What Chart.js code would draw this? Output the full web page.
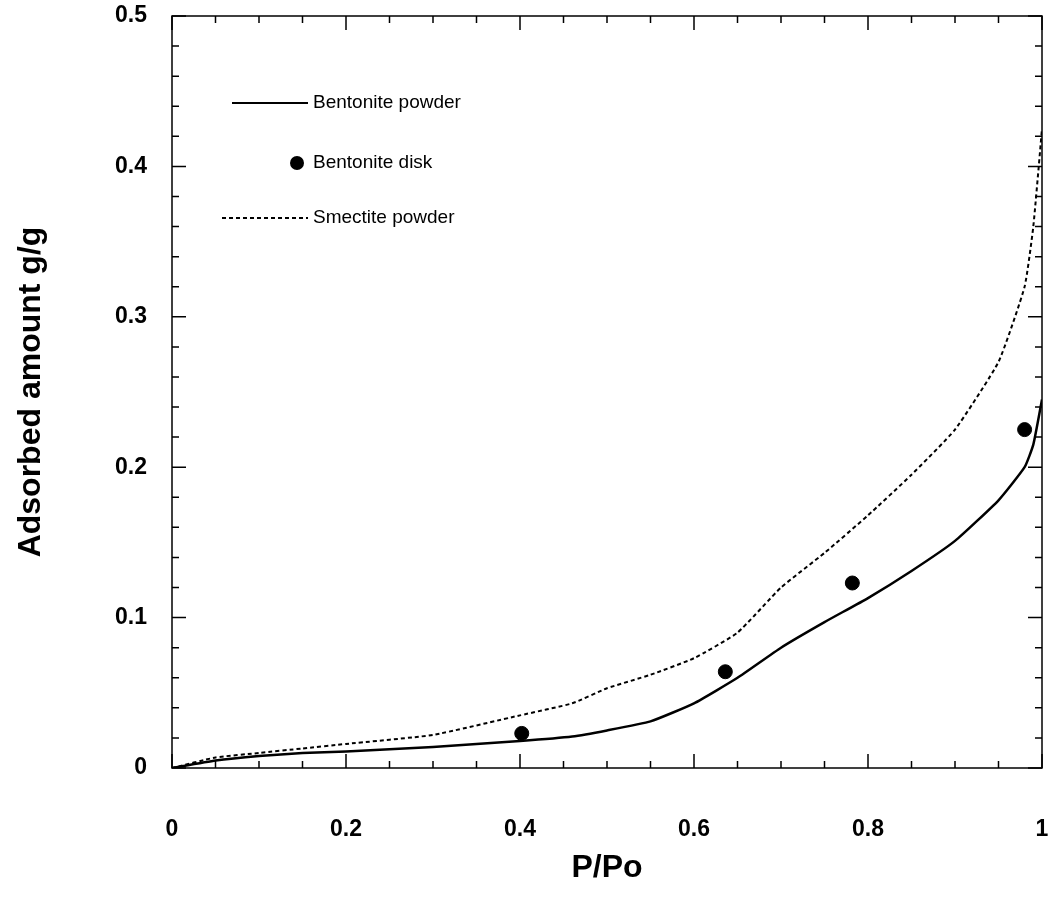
<!DOCTYPE html>
<html>
<head>
<meta charset="utf-8">
<script src="https://cdn.jsdelivr.net/npm/chart.js@4"></script>
<style>
  body { margin: 0; background: #fff; }
  #wrap { width: 1050px; height: 897px; }
</style>
</head>
<body>
<div id="wrap"><canvas id="c"></canvas></div>
<script>
// Bentonite powder isotherm (x = P/Po, y = g/g)
const powderX = [0, 0.05, 0.1, 0.15, 0.2, 0.3, 0.4, 0.46, 0.5, 0.55, 0.6, 0.65, 0.7, 0.75, 0.8, 0.85, 0.9, 0.95, 0.98, 0.99, 1.0];
const powderY = [0, 0.005, 0.008, 0.010, 0.011, 0.014, 0.018, 0.021, 0.025, 0.031, 0.043, 0.060, 0.080, 0.097, 0.113, 0.131, 0.151, 0.178, 0.200, 0.215, 0.245];
// Smectite powder
const smectX = [0, 0.05, 0.1, 0.15, 0.2, 0.3, 0.4, 0.46, 0.5, 0.55, 0.6, 0.65, 0.7, 0.75, 0.8, 0.85, 0.9, 0.95, 0.98, 0.99, 1.0];
const smectY = [0, 0.007, 0.010, 0.013, 0.016, 0.022, 0.035, 0.043, 0.053, 0.062, 0.073, 0.090, 0.120, 0.143, 0.168, 0.195, 0.225, 0.270, 0.320, 0.360, 0.425];
// Bentonite disk
const diskX = [0.402, 0.636, 0.782, 0.98];
const diskY = [0.023, 0.064, 0.123, 0.225];

const xTicks = [0, 0.2, 0.4, 0.6, 0.8, 1];
const yTicks = [0, 0.1, 0.2, 0.3, 0.4, 0.5];

const FONT = 'Arial, "Liberation Sans", sans-serif';

function pts(xs, ys) { return xs.map((x, i) => ({ x: x, y: ys[i] })); }

// Draws frame, inward ticks on all four sides, tick labels and the legend
const framePlugin = {
    id: 'frame',
    afterDraw(chart) {
        const ctx = chart.ctx, a = chart.chartArea;
        const xs = chart.scales.x, ys = chart.scales.y;
        ctx.save();
        ctx.strokeStyle = '#000';
        ctx.lineWidth = 1.5;
        ctx.strokeRect(a.left, a.top, a.right - a.left, a.bottom - a.top);
        for (let i = 0; i <= 20; i++) {
            const px = xs.getPixelForValue(i * 0.05);
            const len = (i % 4 === 0) ? 14 : 7;
            ctx.beginPath();
            ctx.moveTo(px, a.bottom); ctx.lineTo(px, a.bottom - len);
            ctx.moveTo(px, a.top); ctx.lineTo(px, a.top + len);
            ctx.stroke();
        }
        for (let i = 0; i <= 25; i++) {
            const py = ys.getPixelForValue(i * 0.02);
            const len = (i % 5 === 0) ? 14 : 7;
            ctx.beginPath();
            ctx.moveTo(a.left, py); ctx.lineTo(a.left + len, py);
            ctx.moveTo(a.right, py); ctx.lineTo(a.right - len, py);
            ctx.stroke();
        }
        // tick labels
        ctx.fillStyle = '#000';
        ctx.font = 'bold 23px ' + FONT;
        ctx.textAlign = 'center';
        ctx.textBaseline = 'middle';
        xTicks.forEach(v => ctx.fillText(String(v), xs.getPixelForValue(v), a.bottom + 62));
        ctx.textAlign = 'right';
        yTicks.forEach(v => ctx.fillText(String(v), a.left - 25, ys.getPixelForValue(v)));
        // legend
        ctx.textAlign = 'left';
        ctx.font = '19px ' + FONT;
        ctx.lineWidth = 2;
        ctx.beginPath(); ctx.moveTo(232, 103); ctx.lineTo(308, 103); ctx.stroke();
        ctx.fillText('Bentonite powder', 313, 103);
        ctx.beginPath(); ctx.arc(297, 163, 7, 0, Math.PI * 2); ctx.fill();
        ctx.fillText('Bentonite disk', 313, 163);
        ctx.setLineDash([4, 3]);
        ctx.beginPath(); ctx.moveTo(222, 218); ctx.lineTo(308, 218); ctx.stroke();
        ctx.setLineDash([]);
        ctx.fillText('Smectite powder', 313, 218);
        ctx.restore();
    }
};

new Chart(document.getElementById('c'), {
    type: 'scatter',
    data: {
        datasets: [
            { label: 'Bentonite powder', data: pts(powderX, powderY), showLine: true, borderColor: '#000', borderWidth: 2.5, pointRadius: 0, tension: 0.15 },
            { label: 'Bentonite disk', data: pts(diskX, diskY), backgroundColor: '#000', borderColor: '#000', pointRadius: 7 },
            { label: 'Smectite powder', data: pts(smectX, smectY), showLine: true, borderColor: '#000', borderWidth: 2, borderDash: [4, 3], pointRadius: 0, tension: 0.15 }
        ]
    },
    options: {
        responsive: true,
        maintainAspectRatio: false,
        animation: false,
        layout: { padding: { top: 16, right: 8, left: 0, bottom: 0 } },
        plugins: { legend: { display: false }, tooltip: { enabled: false } },
        scales: {
            x: {
                type: 'linear', min: 0, max: 1,
                afterFit: s => { s.height = 129; },
                grid: { display: false },
                border: { display: false },
                ticks: { display: false },
                title: { display: true, text: 'P/Po', color: '#000', font: { size: 32, weight: 'bold', family: FONT }, padding: { bottom: 10 } }
            },
            y: {
                type: 'linear', min: 0, max: 0.5,
                afterFit: s => { s.width = 172; },
                grid: { display: false },
                border: { display: false },
                ticks: { display: false },
                title: { display: true, text: 'Adsorbed amount g/g', color: '#000', font: { size: 32, weight: 'bold', family: FONT }, padding: { top: 12 } }
            }
        }
    },
    plugins: [framePlugin]
});
</script>
</body>
</html>
